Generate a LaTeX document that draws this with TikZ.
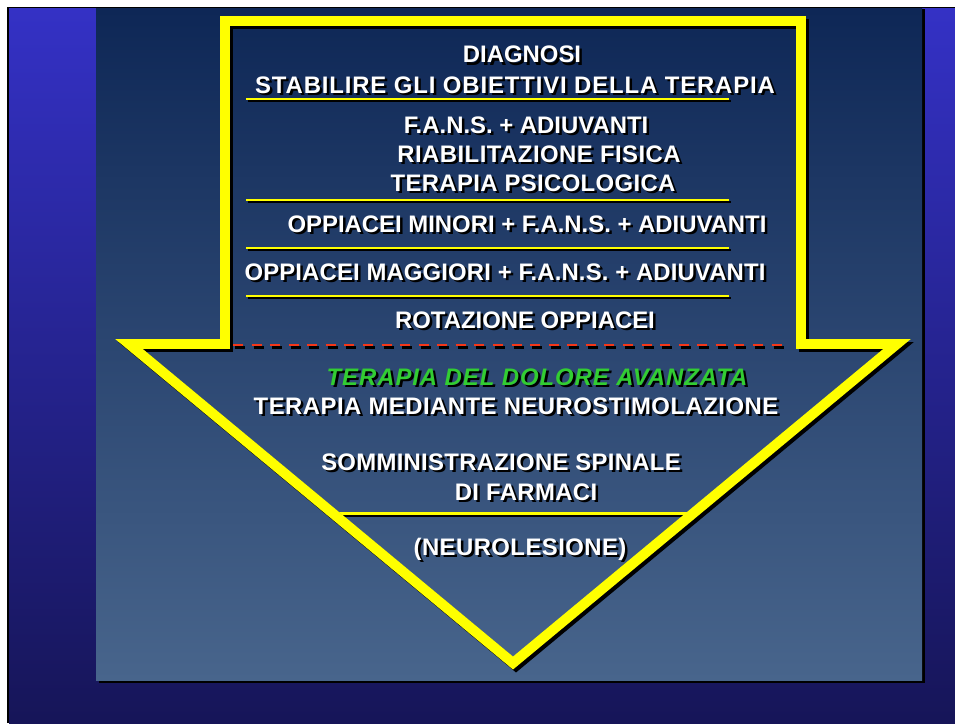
\documentclass[tikz,border=0pt]{standalone}
\usepackage{fontspec}
\setmainfont{Liberation Sans}
\usetikzlibrary{calc}

\definecolor{slidetop}{RGB}{52,49,197}
\definecolor{slidebot}{RGB}{22,21,88}
\definecolor{paneltop}{RGB}{14,39,86}
\definecolor{panelbot}{RGB}{72,101,140}
\definecolor{arrowyellow}{RGB}{255,255,0}
\definecolor{dashred}{RGB}{245,55,25}
\definecolor{advgreen}{RGB}{50,205,50}

% white text with a black drop shadow
\newcommand{\slidetext}[4][]{%
  \node[slidelabel,#1,text=black] (#2-sh) at ($(#3)+(2.5,2.5)$) {#4};
  \node[slidelabel,#1] (#2) at (#3) {#4};}

\begin{document}
\begin{tikzpicture}[x=0.02cm,y=-0.02cm,
    slidelabel/.style={anchor=base,inner sep=0pt,text=white,
      font=\bfseries\fontsize{13.6}{16}\selectfont},
    spaced/.style={font={\bfseries\fontsize{13.6}{16}\selectfont
      \addfontfeature{LetterSpace=#1}}},
    arrowline/.style={line width=5.67pt,line join=miter},
    stepline/.style={line width=1.7pt},
    redline/.style={line width=1.6pt,dash pattern=on 5.67pt off 4.9pt}]
    % Parameters
    \def\shaftL{225}
    \def\shaftR{801}
    \def\shaftTop{21}
    \def\shoulder{344}
    \def\wingL{129}
    \def\wingR{897}
    \def\tipX{513}
    \def\tipY{663}

    \useasboundingbox (0,0) rectangle (955,723);

    % Slide background
    \fill[white] (0,0) rectangle (955,723);
    \fill[black] (7,7) rectangle (955,723);
    \shade[top color=slidetop,bottom color=slidebot] (9,9) rectangle (955,723);

    % Panel
    \fill[black] (99,9) rectangle (925,683);
    \shade[top color=paneltop,bottom color=panelbot] (96,9) rectangle (922,680);

    % Separators between the steps
    \foreach \y in {99,200,248,296} {
      \draw[stepline,black] (248,\y+2) -- (731,\y+2);
      \draw[stepline,arrowyellow] (246,\y) -- (729,\y);
    }
    \draw[stepline,black] (339,515) -- (691,515);
    \draw[stepline,arrowyellow] (337,513) -- (689,513);

    % Red dashed border
    \draw[redline,black] (235,347.5) -- (792,347.5);
    \draw[redline,dashred] (233,345) -- (790,345);

    % Arrow outline
    \draw[arrowline,black,shift={(3,3)}] (\shaftL,\shaftTop) -- (\shaftR,\shaftTop)
      -- (\shaftR,\shoulder) -- (\wingR,\shoulder) -- (\tipX,\tipY)
      -- (\wingL,\shoulder) -- (\shaftL,\shoulder) -- cycle;
    \draw[arrowline,arrowyellow] (\shaftL,\shaftTop) -- (\shaftR,\shaftTop)
      -- (\shaftR,\shoulder) -- (\wingR,\shoulder) -- (\tipX,\tipY)
      -- (\wingL,\shoulder) -- (\shaftL,\shoulder) -- cycle;

    % Steps
    \slidetext{diagnosi}{522,63}{DIAGNOSI}
    \slidetext[spaced=3.6]{obiettivi}{515,93}{STABILIRE GLI OBIETTIVI DELLA TERAPIA}
    \slidetext{fans}{526,133}{F.A.N.S. + ADIUVANTI}
    \slidetext[spaced=2]{riab}{539,162}{RIABILITAZIONE FISICA}
    \slidetext[spaced=1.5]{psico}{533,191}{TERAPIA PSICOLOGICA}
    \slidetext{minori}{527,232}{OPPIACEI MINORI + F.A.N.S. + ADIUVANTI}
    \slidetext[spaced=0.6]{maggiori}{505,280}{OPPIACEI MAGGIORI + F.A.N.S. + ADIUVANTI}
    \slidetext{rotazione}{525,328}{ROTAZIONE OPPIACEI}

    % Advanced therapy
    \slidetext[spaced=3.9,text=advgreen]{avanzata}{537,385}{\itshape TERAPIA DEL DOLORE AVANZATA}
    \slidetext[spaced=2]{neurostim}{516,414}{TERAPIA MEDIANTE NEUROSTIMOLAZIONE}
    \slidetext[spaced=1.2]{spinale}{501,470}{SOMMINISTRAZIONE SPINALE}
    \slidetext[spaced=1.6]{farmaci}{526,500}{DI FARMACI}
    \slidetext[spaced=1.8]{neurolesione}{520,555}{(NEUROLESIONE)}
  \end{tikzpicture}
\end{document}
